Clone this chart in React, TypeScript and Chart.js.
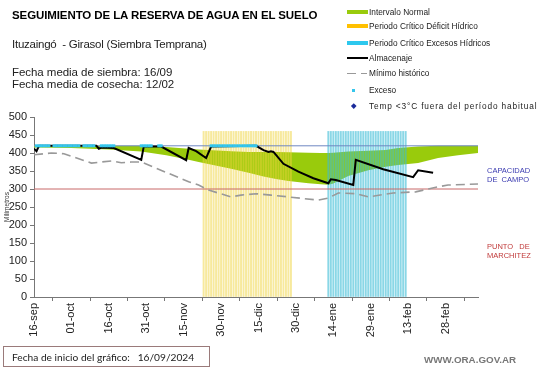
import React, { useEffect, useRef } from 'react';
import { Chart, registerables } from 'chart.js';

Chart.register(...registerables);

// ---- data ----
const xTickLabels = ['16-sep', '01-oct', '16-oct', '31-oct', '15-nov', '30-nov', '15-dic', '30-dic', '14-ene', '29-ene', '13-feb', '28-feb'];
const tickStepDays = 15;
const xMaxDay = 178;
const yTicksMax = 500;

const capacidadCampo = 420;
const puntoMarchitez = 300;
const periodTop = 460;

const bandDays = [0, 15, 30, 43, 53, 62, 66, 79, 86, 92, 97, 102, 110, 115, 118, 120, 126, 134, 141, 146, 154, 162, 170, 178];
const bandUpper = [420, 420, 420, 420, 417, 412, 410, 405, 403, 403, 403, 402, 401, 400, 400, 401, 404, 406, 408, 414, 418, 420, 420, 420];
const bandLower = [415, 414, 410, 404, 394, 381, 375, 356, 345, 335, 328, 322, 316, 313, 312, 315, 336, 352, 362, 367, 372, 386, 394, 400];

const deficitDays = [68, 69, 70, 71, 72, 73, 74, 75, 76, 77, 78, 79, 80, 81, 82, 83, 84, 85, 86, 87, 88, 89, 90, 91, 92, 93, 94, 95, 96, 97, 98, 99, 100, 101, 102, 103];
const excesosHidricosDays = [118, 119, 120, 121, 122, 123, 124, 125, 126, 127, 128, 129, 130, 131, 132, 133, 134, 135, 136, 137, 138, 139, 140, 141, 142, 143, 144, 145, 146, 147, 148, 149];

const almDays = [0, 1, 2, 25, 26, 27, 32, 43, 44, 51, 61, 62, 65, 69, 71, 89, 92, 94, 95, 96, 100, 106, 112, 118, 119, 121, 128, 129, 140, 152, 154, 160];
const almValues = [412, 405, 420, 420, 412, 415, 414, 381, 418, 418, 380, 414, 405, 386, 418, 420, 408, 403, 405, 403, 370, 348, 330, 316, 327, 325, 311, 381, 355, 333, 352, 345];

const minDays = [0, 7, 12, 23, 31, 35, 39, 43, 62, 66, 70, 79, 83, 89, 95, 102, 114, 118, 122, 129, 134, 144, 153, 162, 166, 178];
const minValues = [395, 400, 398, 372, 378, 373, 375, 375, 320, 311, 297, 278, 283, 287, 283, 278, 269, 275, 289, 287, 278, 289, 292, 306, 311, 314];

const excesoDays = [1, 2, 3, 4, 5, 6, 8, 9, 10, 11, 12, 13, 14, 15, 16, 17, 18, 20, 21, 22, 23, 24, 27, 28, 29, 30, 31, 32, 43, 44, 45, 46, 47, 50, 51, 71, 72, 73, 74, 75, 76, 77, 78, 79, 80, 81, 82, 83, 84, 85, 86, 87, 88, 89];
const excesoValue = 420;

const FONT = '"Liberation Sans", Arial, sans-serif';

const pts = (d: number[], v: number[]) => d.map((x, i) => ({ x, y: v[i] }));

function ChartCanvas() {
  const ref = useRef<HTMLCanvasElement>(null);
  useEffect(() => {
    Chart.defaults.font.family = FONT;
    const chart = new Chart(ref.current as HTMLCanvasElement, {
      type: 'line',
      data: {
        datasets: [
          { type: 'line', label: 'lower', data: pts(bandDays, bandLower), borderWidth: 0, borderColor: 'rgba(0,0,0,0)', pointRadius: 0, fill: false, order: 20 } as any,
          { type: 'line', label: 'Intervalo Normal', data: pts(bandDays, bandUpper), borderWidth: 0, borderColor: 'rgba(0,0,0,0)', pointRadius: 0, fill: '-1', backgroundColor: '#99CB0C', order: 19 } as any,
          { type: 'bar', label: 'Deficit', data: deficitDays.map((d) => ({ x: d, y: periodTop })), backgroundColor: 'rgba(240,212,60,0.5)', barThickness: 1.3, grouped: false, order: 15 } as any,
          { type: 'bar', label: 'Excesos', data: excesosHidricosDays.map((d) => ({ x: d, y: periodTop })), backgroundColor: 'rgba(60,188,214,0.6)', barThickness: 1.3, grouped: false, order: 15 } as any,
          { type: 'line', label: 'PM', data: [{ x: 0, y: puntoMarchitez }, { x: xMaxDay, y: puntoMarchitez }], borderColor: '#C86868', borderWidth: 1, pointRadius: 0, order: 10 } as any,
          { type: 'line', label: 'CC', data: [{ x: 0, y: capacidadCampo }, { x: xMaxDay, y: capacidadCampo }], borderColor: '#6F88C2', borderWidth: 1, pointRadius: 0, order: 10 } as any,
          { type: 'line', label: 'Mínimo histórico', data: pts(minDays, minValues), borderColor: '#999999', borderWidth: 1.6, borderDash: [9, 5], pointRadius: 0, order: 8 } as any,
          { type: 'line', label: 'Almacenaje', data: pts(almDays, almValues), borderColor: '#000000', borderWidth: 2, pointRadius: 0, order: 5 } as any,
          { type: 'line', label: 'Exceso', data: excesoDays.map((d) => ({ x: d, y: excesoValue })), showLine: false, pointStyle: 'rect', pointRadius: 2.1, pointBorderWidth: 0, pointBackgroundColor: '#35C6EC', order: 1 } as any,
        ],
      },
      options: {
        animation: false,
        responsive: false,
        devicePixelRatio: 1,
        events: [],
        layout: { padding: { top: 117, right: 63, left: 0, bottom: 0 } },
        plugins: { legend: { display: false }, tooltip: { enabled: false }, title: { display: false } },
        scales: {
          x: {
            type: 'linear',
            min: 0,
            max: xMaxDay,
            offset: false,
            afterFit: (s: any) => { s.height = 71; },
            afterBuildTicks: (s: any) => { s.ticks = xTickLabels.map((_, i) => ({ value: i * tickStepDays })); },
            ticks: {
              autoSkip: false,
              maxRotation: 90,
              minRotation: 90,
              padding: 2,
              color: '#222',
              font: { size: 11 },
              callback: (v: any) => xTickLabels[Math.round(Number(v) / tickStepDays)] ?? '',
            },
            grid: { display: true, drawOnChartArea: false, drawTicks: true, tickLength: 4, color: '#777' },
            border: { display: true, color: '#777', width: 1 },
          },
          y: {
            min: 0,
            max: yTicksMax,
            afterFit: (s: any) => { s.width = 34; },
            ticks: { stepSize: 50, color: '#222', font: { size: 11 }, padding: 3 },
            title: { display: true, text: 'Milímetros', color: '#333', font: { size: 6.5 }, padding: { top: 3, bottom: 0 } },
            grid: { display: true, drawOnChartArea: false, drawTicks: true, tickLength: 4, color: '#777' },
            border: { display: true, color: '#777', width: 1 },
          },
        },
      } as any,
    });
    return () => chart.destroy();
  }, []);
  return <canvas ref={ref} width={541} height={368} style={{ position: 'absolute', left: 0, top: 0, width: 541, height: 368 }} />;
}

const abs = (left: number, top: number, extra: React.CSSProperties = {}): React.CSSProperties => ({
  position: 'absolute', left, top, whiteSpace: 'nowrap', fontFamily: FONT, lineHeight: 1, ...extra,
});

function LegendItem({ y, symbol, text, spacing = 0 }: { y: number; symbol: React.ReactNode; text: string; spacing?: number }) {
  return (
    <>
      {symbol}
      <div style={abs(369, y - 4.2, { fontSize: 8.3, color: '#222', letterSpacing: spacing })}>{text}</div>
    </>
  );
}

export default function App() {
  const sw = (y: number, color: string) => <div style={abs(347, y - 2, { width: 21, height: 4, background: color })} />;
  return (
    <div style={{ position: 'absolute', left: 0, top: 0, width: 541, height: 368, background: '#fff', overflow: 'hidden' }}>
      <ChartCanvas />
      <div style={abs(12, 10, { fontSize: 11.5, fontWeight: 'bold', color: '#000', letterSpacing: -0.1 })}>SEGUIMIENTO DE LA RESERVA DE AGUA  EN EL SUELO</div>
      <div style={abs(12, 38.5, { fontSize: 11.5, color: '#222', letterSpacing: -0.25 })}>Ituzaingó&nbsp; - Girasol (Siembra Temprana)</div>
      <div style={abs(12, 66, { fontSize: 11.5, color: '#222', lineHeight: '12px', letterSpacing: -0.05 })}>
        Fecha media de siembra: 16/09<br />Fecha media de cosecha: 12/02
      </div>

      <LegendItem y={12} symbol={sw(12, '#99CB0C')} text="Intervalo Normal" />
      <LegendItem y={26} symbol={sw(26, '#FFC000')} text="Periodo Crítico Déficit Hídrico" />
      <LegendItem y={43} symbol={sw(43, '#2DC8EE')} text="Periodo Crítico Excesos Hídricos" />
      <LegendItem y={58} symbol={<div style={abs(347, 57, { width: 21, height: 2, background: '#000' })} />} text="Almacenaje" />
      <LegendItem y={73} symbol={<>
        <div style={abs(347, 72.5, { width: 9, height: 1.5, background: '#999' })} />
        <div style={abs(361, 72.5, { width: 6, height: 1.5, background: '#999' })} />
      </>} text="Mínimo histórico" />
      <LegendItem y={90} symbol={<div style={abs(352, 89, { width: 2.5, height: 2.5, background: '#35C6EC' })} />} text="Exceso" />
      <LegendItem y={106} spacing={0.85} symbol={<div style={abs(351.5, 104, { width: 3.5, height: 3.5, background: '#1a2a9a', transform: 'rotate(45deg)' })} />} text="Temp <3°C fuera del período habitual" />

      <div style={abs(487, 166, { fontSize: 7.5, color: '#3a3ab0', lineHeight: '9px' })}>CAPACIDAD<br />DE&nbsp; CAMPO</div>
      <div style={abs(487, 242, { fontSize: 7.5, color: '#c03a3a', lineHeight: '9px' })}>PUNTO&nbsp;&nbsp; DE<br />MARCHITEZ</div>

      <div style={abs(3, 346, { width: 207, height: 21, border: '1px solid #9a7a7a', boxSizing: 'border-box' })} />
      <div style={abs(12, 351.5, { fontSize: 10.2, color: '#222', fontFamily: 'Lato, sans-serif' })}>Fecha de inicio del gráfico:&nbsp;&nbsp; 16/09/2024</div>
      <div style={abs(424, 355, { fontSize: 9.8, color: '#777', fontWeight: 'bold' })}>WWW.ORA.GOV.AR</div>
    </div>
  );
}
